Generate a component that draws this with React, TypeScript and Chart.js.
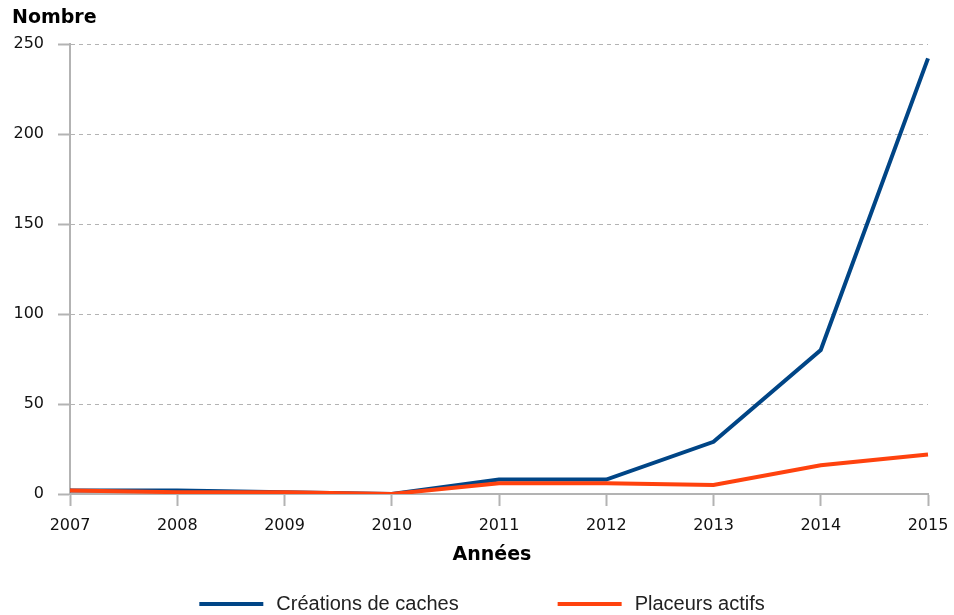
import React, { useEffect, useRef } from "react";
import { Chart, registerables } from "chart.js";

Chart.register(...registerables);

const years = ["2007", "2008", "2009", "2010", "2011", "2012", "2013", "2014", "2015"];
const creationsDeCaches = [2, 2, 1, 0, 8, 8, 29, 80, 242];
const placeursActifs = [2, 1, 1, 0, 6, 6, 5, 16, 22];
const seriesNames = ["Créations de caches", "Placeurs actifs"];
const seriesColors = ["#004586", "#ff420e"];
const yTitle = "Nombre";
const xTitle = "Années";

const GRID = "#b3b3b3";

const overlayPlugin = {
  id: "overlay",
  afterDraw(chart: any) {
    const ctx = chart.ctx;
    ctx.save();
    // y-axis title (horizontal, top-left)
    ctx.font = "bold 19px 'DejaVu Sans'";
    ctx.fillStyle = "#000";
    ctx.textAlign = "left";
    ctx.textBaseline = "middle";
    ctx.fillText(yTitle, 12, 18);

    // x-axis title
    ctx.font = "bold 19px 'DejaVu Sans'";
    ctx.textAlign = "center";
    ctx.fillText(xTitle, 492, 555);

    // legend
    const datasets = chart.data.datasets;
    ctx.textAlign = "left";
    ctx.font = "20px 'Liberation Sans'";
    const lineW = 64;
    const gap = 13;
    const spacing = 99;
    const widths = datasets.map((d: any) => lineW + gap + ctx.measureText(d.label).width);
    const total = widths.reduce((a: number, b: number) => a + b, 0) + spacing * (datasets.length - 1);
    let x = 482 - total / 2;
    const y = 604;
    datasets.forEach((d: any, i: number) => {
      ctx.strokeStyle = d.borderColor;
      ctx.lineWidth = 4;
      ctx.beginPath();
      ctx.moveTo(x, y);
      ctx.lineTo(x + lineW, y);
      ctx.stroke();
      ctx.fillStyle = "#222";
      ctx.textBaseline = "middle";
      ctx.fillText(d.label, x + lineW + gap, y);
      x += widths[i] + spacing;
    });
    ctx.restore();
  },
};

export default function App() {
  const ref = useRef<HTMLCanvasElement | null>(null);
  useEffect(() => {
    if (!ref.current) return;
    const chart = new Chart(ref.current, {
      type: "line",
      data: {
        labels: years,
        datasets: [
          {
            label: seriesNames[0],
            data: creationsDeCaches,
            borderColor: seriesColors[0],
            backgroundColor: seriesColors[0],
            borderWidth: 4,
            pointRadius: 0,
            tension: 0,
            order: 1,
          },
          {
            label: seriesNames[1],
            data: placeursActifs,
            borderColor: seriesColors[1],
            backgroundColor: seriesColors[1],
            borderWidth: 4,
            pointRadius: 0,
            tension: 0,
            order: 0,
          },
        ],
      },
      options: {
        animation: false,
        responsive: false,
        maintainAspectRatio: false,
        layout: { padding: { top: 44, right: 26, bottom: 41, left: 0 } },
        plugins: {
          legend: { display: false },
          tooltip: { enabled: false },
          title: { display: false },
        },
        scales: {
          x: {
            type: "category",
            offset: false,
            grid: {
              drawOnChartArea: false,
              drawTicks: true,
              tickLength: 12,
              tickWidth: 2,
              tickColor: GRID,
              color: GRID,
            },
            border: { display: true, color: GRID, width: 2 },
            ticks: {
              padding: 10,
              color: "#111",
              font: { family: "'DejaVu Sans'", size: 16 },
              maxRotation: 0,
              autoSkip: false,
            },
            title: { display: false, text: xTitle },
            afterFit(scale: any) {
              scale.height = 80;
              scale.paddingLeft = 0;
              scale.paddingRight = 0;
            },
          },
          y: {
            min: 0,
            max: 250,
            grid: {
              color: GRID,
              lineWidth: 1,
              drawTicks: true,
              tickLength: 12,
              tickWidth: 2,
              tickColor: GRID,
              tickBorderDash: [],
            },
            border: { display: true, color: GRID, width: 2, dash: [4, 4] },
            ticks: {
              stepSize: 50,
              padding: 14,
              color: "#111",
              font: { family: "'DejaVu Sans'", size: 16 },
            },
            afterFit(scale: any) {
              scale.width = 70;
            },
          },
        },
      },
      plugins: [overlayPlugin],
    });
    return () => chart.destroy();
  }, []);
  return (
    <div style={{ position: "fixed", left: 0, top: 0, width: 954, height: 615, background: "#fff" }}>
      <canvas ref={ref} width={954} height={615} style={{ display: "block", width: 954, height: 615 }} />
    </div>
  );
}
